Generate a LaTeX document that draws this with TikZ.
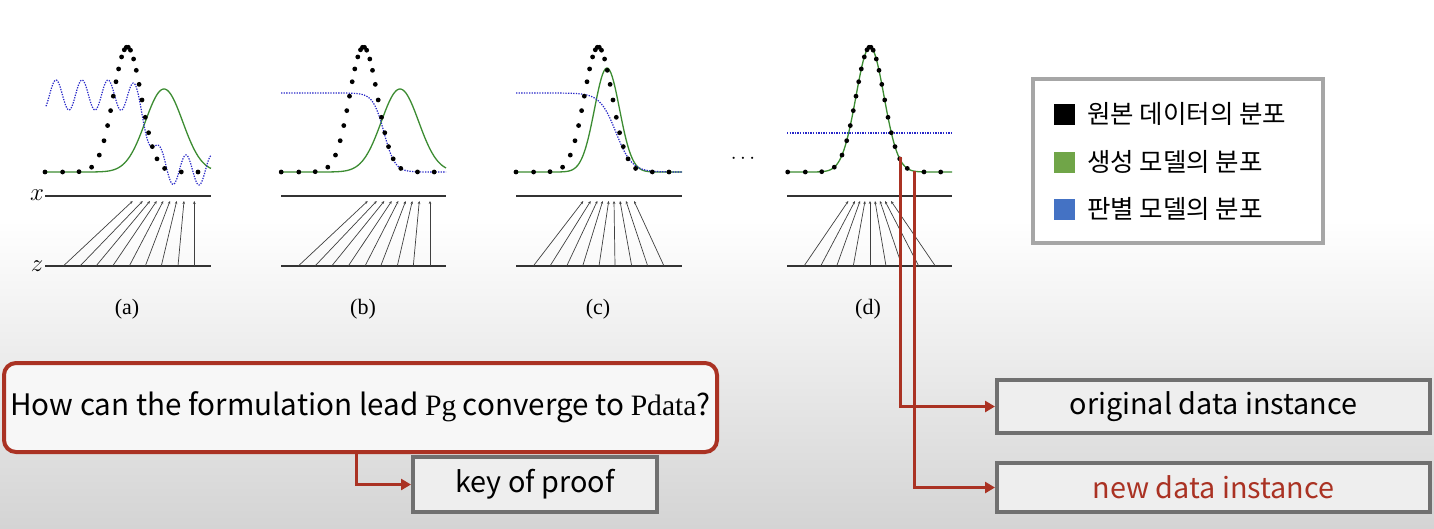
\documentclass[tikz,border=0pt]{standalone}
\usepackage{fontspec}
\setmainfont{Liberation Serif}
\newfontfamily\kr{Noto Sans CJK KR}
\newfontfamily\serifP{Liberation Serif}
\usetikzlibrary{arrows.meta}
\definecolor{redc}{RGB}{170,50,35}
\definecolor{bgbot}{RGB}{212,212,212}
\definecolor{boxfill}{RGB}{238,238,238}
\definecolor{boxline}{RGB}{112,112,112}
\definecolor{legline}{RGB}{166,166,166}
\definecolor{gcurve}{RGB}{60,140,50}
\definecolor{bcurve}{RGB}{40,40,200}
\definecolor{leggreen}{RGB}{112,165,72}
\definecolor{legblue}{RGB}{68,114,196}
\tikzset{
  declare function={gs(\x,\m,\s)=exp(max(-15,-0.5*((\x-\m)/\s)^2));
                    sg(\x,\c,\k)=1/(1+exp(min(9,-(\x-\c)/\k)));},
  gen/.style={line width=1.3pt, gcurve},
  disc/.style={line width=1.2pt, bcurve, dash pattern=on 1.3pt off 1.3pt},
  axisline/.style={line width=1.5pt, black!80},
  mapline/.style={line width=0.7pt, black!75, -{Stealth[length=3pt,width=2.6pt]}},
  plabel/.style={font=\fontsize{22}{26}\selectfont, inner sep=0pt},
  vlabel/.style={font=\fontsize{26}{30}\selectfont, inner sep=0pt},
  qbox/.style={draw=redc, line width=4pt, rounded corners=12pt, fill=white!97!black,
    minimum width=713pt, minimum height=89pt, inner sep=0pt,
    font=\kr\fontsize{29.6}{34}\selectfont},
  gbox/.style={draw=boxline, line width=4pt, fill=boxfill, inner sep=0pt,
    font=\kr\fontsize{28.8}{34}\selectfont},
  redarrow/.style={draw=redc, line width=3pt, -{Triangle[length=10pt,width=11pt]}},
  legbox/.style={draw=legline, line width=4pt, fill=white, minimum width=290pt, minimum height=164pt, inner sep=0pt},
  sq/.style={minimum size=21pt, inner sep=0pt},
  legtxt/.style={anchor=west, inner sep=0pt, font=\kr\fontsize{25.5}{30}\selectfont},
}
\newcommand\drawdatadots[1]{%
  \foreach \o in {-82.3,-64.7,-48.3,-35.7,-28,-23.3,-19.7,-16.7,-14,-11.3,-8.7,-5.7,-3,-1,
                  1,3.2,6.3,9,11.8,14.7,18,21.3,25,29.7,37.3,54,70.7}
    \fill[black] ({#1+\o},{172-125*gs(#1+\o,#1,14)}) circle (2.4);}
\begin{document}
\begin{tikzpicture}[x=1pt,y=-1pt]
\useasboundingbox (0,0) rectangle (1434,528);
\fill[white] (0,0) rectangle (1434,528);
\shade[top color=white, bottom color=bgbot] (0,220) rectangle (1434,528);

% ---------- panel (a)
\draw[axisline] (45,196) -- (211,196);
\draw[axisline] (45,266) -- (211,266);
\foreach \b/\t in {63.3/132.7,80/142.7,96/150,112.7/156.7,129.3/163.3,145.3/170,161.3/176.7,178/184,194.3/194.3}
  \draw[mapline] (\b,266) -- (\t,201);
\draw[gen] plot[domain=45:211, samples=120] (\x,{172-83*gs(\x,164,18.7)});
\draw[disc] plot[domain=46:211, samples=260] (\x,{95+75*sg(\x,149.5,5)-15*sin(360*((\x-49.5)/26))});
\drawdatadots{127.3}
\node[vlabel] (lx) at (37,195) {$x$};
\node[vlabel] (lz) at (37,266) {$z$};
\node[plabel] (la) at (127,309) {(a)};

% ---------- panel (b)
\draw[axisline] (281,196) -- (446,196);
\draw[axisline] (281,266) -- (446,266);
\foreach \b/\t in {298.3/367.7,315/376.7,331.7/384.3,348.3/391.7,365/398.3,380.7/405.7,397.3/412.3,413.3/419.3,430/430}
  \draw[mapline] (\b,266) -- (\t,201);
\draw[gen] plot[domain=281:446, samples=120] (\x,{172-83*gs(\x,400,18.7)});
\draw[disc] plot[domain=281:446, samples=160] (\x,{93+79*sg(\x,384,5.5)});
\drawdatadots{363.5}
\node[plabel] (lb) at (363,309) {(b)};

% ---------- panel (c)
\draw[axisline] (516,196) -- (682,196);
\draw[axisline] (516,266) -- (682,266);
\foreach \b/\t in {533.3/583.3,550/590.7,566.7/597.3,582.7/602.7,599/608.7,615/614,631.7/620,647.7/626,664/634}
  \draw[mapline] (\b,266) -- (\t,201);
\draw[gen] plot[domain=516:682, samples=120] (\x,{172-104*gs(\x,607,12.5)});
\draw[disc] plot[domain=516:682, samples=160] (\x,{93+79*sg(\x,616,8)});
\drawdatadots{598.3}
\node[plabel] (lc) at (598,309) {(c)};

\node[font=\fontsize{20}{24}\selectfont, inner sep=0pt] (ell) at (743,159) {$\cdots$};

% ---------- panel (d)
\draw[axisline] (787,196) -- (952,196);
\draw[axisline] (787,266) -- (952,266);
\foreach \b/\t in {804/848.3,820.7/855,836.7/860,853.3/865,870/870,886/875,902/880,918.7/885,935.3/891}
  \draw[mapline] (\b,266) -- (\t,201);
\draw[disc] (787,133) -- (952,133);
\draw[gen] plot[domain=787:952, samples=120] (\x,{172-125*gs(\x,870,14)});
\drawdatadots{870}
\node[plabel] (ld) at (868,309) {(d)};

% ---------- legend
\node[legbox] (leg) at (1178,161) {};
\node[sq, fill=black] (s1) at (1064,114) {};
\node[sq, fill=leggreen] (s2) at (1064,162) {};
\node[sq, fill=legblue] (s3) at (1064,209) {};
\node[legtxt] (t1) at (1087,114) {원본 데이터의 분포};
\node[legtxt] (t2) at (1087,162) {생성 모델의 분포};
\node[legtxt] (t3) at (1087,209) {판별 모델의 분포};

% ---------- boxes
\node[qbox] (q) at (360.5,407.5) {How can the formulation lead {\serifP Pg} converge to {\serifP Pdata}?};
\node[gbox, minimum width=244pt, minimum height=55pt] (key) at (535,484.5) {key of proof};
\node[gbox, minimum width=433pt, minimum height=53pt] (orig) at (1213.5,406.5) {original data instance};
\node[gbox, minimum width=433pt, minimum height=49pt, text=redc] (new) at (1213.5,487.5) {new data instance};

% ---------- connectors
\draw[redarrow] ([xshift=-4.5pt]q.south) |- (key.west);
\coordinate (po) at (900,157);
\coordinate (pn) at (914,171);
\draw[redarrow] (po) |- (orig.west);
\draw[redarrow] (pn) |- (new.west);
\end{tikzpicture}
\end{document}
